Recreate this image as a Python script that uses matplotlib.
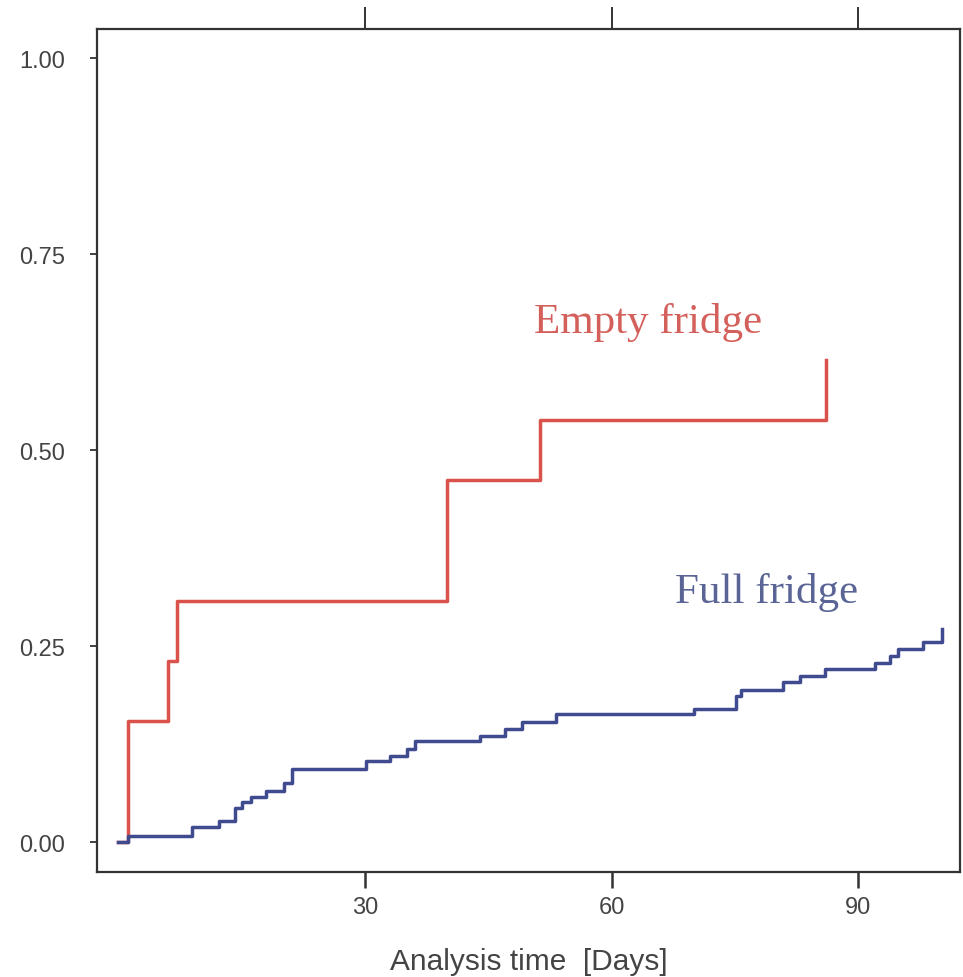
from matplotlib import pyplot as plt

# Kaplan-Meier failure estimates
red_t = [0, 1.2, 6.1, 7.1, 40.0, 51.3, 86.1]
red_f = [0, 0.154, 0.231, 0.308, 0.462, 0.538, 0.615]

blue_t = [0, 1.2, 9.0, 12.2, 14.2, 15.0, 16.2, 18.0, 20.1, 21.1, 30.1, 33.0,
          35.1, 36.1, 44.0, 47.0, 49.1, 53.2, 70.0, 75.2, 75.8, 80.9, 82.9,
          86.0, 92.1, 93.9, 94.9, 97.9, 100.2]
blue_f = [0, 0.008, 0.019, 0.027, 0.044, 0.051, 0.057, 0.065, 0.076, 0.093,
          0.104, 0.110, 0.119, 0.129, 0.136, 0.144, 0.153, 0.163, 0.170,
          0.187, 0.194, 0.204, 0.212, 0.221, 0.229, 0.238, 0.246, 0.255, 0.272]

xticks = [30, 60, 90]
yticks = [0, 0.25, 0.5, 0.75, 1.0]
ylabels = ["0.00", "0.25", "0.50", "0.75", "1.00"]

red = "#d9534c"
blue = "#3f4a8f"
axcol = "#333333"

fig = plt.figure(figsize=(9.63, 9.78), dpi=100)
ax = fig.add_axes([0.1007, 0.1074, 0.8962, 0.8619])

ax.step(red_t, red_f, where="post", color=red, lw=2.5)
ax.step(blue_t, blue_f, where="post", color=blue, lw=2.5)

ax.text(64.4, 0.65, "Empty fridge", color="#d4605c", fontsize=31,
        family="Liberation Serif", ha="center", va="baseline")
ax.text(78.9, 0.306, "Full fridge", color="#5a6596", fontsize=31,
        family="Liberation Serif", ha="center", va="baseline")

ax.set_xlim(-2.6, 102.4)
ax.set_ylim(-0.038, 1.037)

ax.set_xticks(xticks)
ax.set_xticklabels([str(t) for t in xticks])
ax.set_yticks(yticks)
ax.set_yticklabels(ylabels)

for s in ax.spines.values():
    s.set_color(axcol)
    s.set_linewidth(1.6)

ax.tick_params(axis="x", length=0, labelsize=17, labelcolor="#444444", pad=17)
ax.tick_params(axis="y", left=True, right=False, direction="out", length=5,
               width=1.3, color=axcol, labelsize=17, labelcolor="#444444",
               pad=18)

# tick marks drawn by hand: long ones above the box, shorter ones below
xt = ax.get_xaxis_transform()
ax.vlines(xticks, 1.0, 1.026, transform=xt, color=axcol, lw=1.4, clip_on=False)
ax.vlines(xticks, -0.019, 0.0, transform=xt, color=axcol, lw=1.8,
          clip_on=False, zorder=5)

for lab in ax.get_xticklabels() + ax.get_yticklabels():
    lab.set_family("Liberation Sans")

ax.set_xlabel("Analysis time  [Days]", fontsize=21.5, color="#444444",
              family="Liberation Sans", labelpad=21)

plt.savefig("out.png", dpi=100)
